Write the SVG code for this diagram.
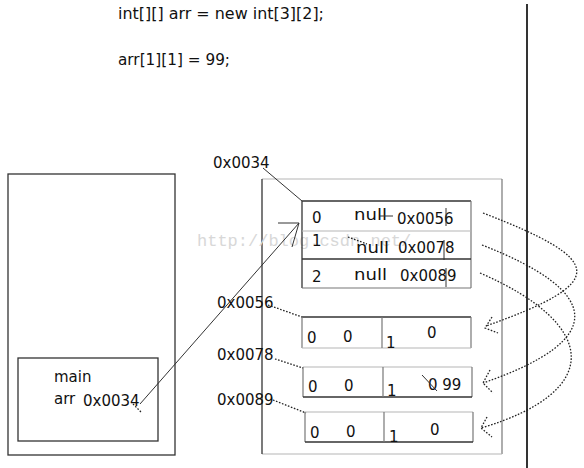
<svg xmlns="http://www.w3.org/2000/svg" width="584" height="468" viewBox="0 0 584 468">
<style>
  .t{font-family:"DejaVu Sans","Liberation Sans",sans-serif;fill:#111;}
  .code{font-size:15.5px;}
  .lb{font-size:15px;}
  .dk{stroke:#333;stroke-width:1.3;fill:none;}
  .lt{stroke:#b5b5b5;stroke-width:1.2;fill:none;}
  .md{stroke:#777;stroke-width:1.2;fill:none;}
  .dot{stroke:#222;stroke-width:1.3;fill:none;stroke-dasharray:1.6 1.6;}
  .sol{stroke:#333;stroke-width:1;fill:none;}
  .wm{font-family:"Liberation Mono",monospace;font-size:17px;fill:#d8d8d8;}
</style>
<rect width="584" height="468" fill="#fff"/>

<g id="code">
  <text class="t code" x="118" y="19" textLength="206" lengthAdjust="spacingAndGlyphs">int[][] arr = new int[3][2];</text>
  <text class="t code" x="118" y="65" textLength="112" lengthAdjust="spacingAndGlyphs">arr[1][1] = 99;</text>
</g>

<g id="divider">
  <line x1="527" y1="4" x2="527" y2="468" stroke="#000" stroke-width="1.6"/>
</g>

<g id="stack">
  <rect x="8" y="174" width="167" height="281" class="dk" stroke-width="1.5"/>
  <rect x="18" y="358" width="140" height="83" class="dk" stroke="#444"/>
  <text class="t lb" x="54" y="382">main</text>
  <text class="t lb" x="54" y="404">arr</text>
  <text class="t lb" x="83" y="406">0x0034</text>
</g>

<g id="heap">
  <line x1="262" y1="179" x2="502" y2="179" class="lt"/>
  <line x1="502" y1="179" x2="502" y2="454" class="md"/>
  <line x1="262" y1="454" x2="502" y2="454" class="lt"/>
  <line x1="262" y1="179" x2="262" y2="454" class="dk"/>
</g>

<text class="wm" x="197" y="246">http://blog.csdn.net/</text>

<g id="table">
  <line x1="302" y1="201" x2="471" y2="201" class="dk"/>
  <line x1="302" y1="201" x2="302" y2="288" class="dk"/>
  <line x1="471" y1="201" x2="471" y2="288" class="md"/>
  <line x1="302" y1="288" x2="471" y2="288" class="md"/>
  <line x1="302" y1="231" x2="471" y2="231" class="lt"/>
  <line x1="302" y1="259" x2="471" y2="259" class="dk"/>
  <text class="t lb" x="312" y="223">0</text>
  <text class="t lb" x="354" y="220" textLength="33" lengthAdjust="spacingAndGlyphs">null</text>
  <text class="t lb" x="397" y="224">0x0056</text>
  <text class="t lb" x="312" y="246">1</text>
  <text class="t lb" x="356" y="253" textLength="33" lengthAdjust="spacingAndGlyphs">null</text>
  <text class="t lb" x="398" y="253">0x0078</text>
  <text class="t lb" x="312" y="282">2</text>
  <text class="t lb" x="354" y="280" textLength="33" lengthAdjust="spacingAndGlyphs">null</text>
  <text class="t lb" x="400" y="281">0x0089</text>
  <line x1="380" y1="216" x2="393" y2="216" class="sol"/>
  <line x1="446" y1="208" x2="446" y2="226" class="sol"/>
  <line x1="444" y1="240" x2="444" y2="260" class="sol"/>
  <line x1="446" y1="268" x2="446" y2="287" class="sol"/>
  <line x1="348" y1="237" x2="367" y2="244" class="dot"/>
</g>

<g id="arr0">
  <line x1="302" y1="317" x2="471" y2="317" class="dk"/>
  <line x1="302" y1="317" x2="302" y2="348" class="md"/>
  <line x1="471" y1="317" x2="471" y2="348" class="md"/>
  <line x1="302" y1="348" x2="471" y2="348" class="lt"/>
  <line x1="382" y1="317" x2="382" y2="348" class="md"/>
  <text class="t lb" x="307" y="343">0</text>
  <text class="t lb" x="343" y="342">0</text>
  <text class="t lb" x="386" y="348">1</text>
  <text class="t lb" x="427" y="338">0</text>
</g>

<g id="arr1">
  <line x1="303" y1="367" x2="472" y2="367" class="lt"/>
  <line x1="303" y1="367" x2="303" y2="397" class="md"/>
  <line x1="472" y1="367" x2="472" y2="397" class="md"/>
  <line x1="303" y1="397" x2="472" y2="397" class="dk"/>
  <line x1="383" y1="367" x2="383" y2="397" class="md"/>
  <text class="t lb" x="308" y="392">0</text>
  <text class="t lb" x="344" y="391">0</text>
  <text class="t lb" x="387" y="396">1</text>
  <text class="t lb" x="428" y="390">0 99</text>
  <line x1="422" y1="375" x2="437" y2="391" class="sol"/>
</g>

<g id="arr2">
  <line x1="305" y1="412" x2="473" y2="412" class="lt"/>
  <line x1="305" y1="412" x2="305" y2="442" class="md"/>
  <line x1="473" y1="412" x2="473" y2="442" class="md"/>
  <line x1="305" y1="442" x2="473" y2="442" class="dk"/>
  <line x1="384" y1="412" x2="384" y2="442" class="md"/>
  <text class="t lb" x="310" y="438">0</text>
  <text class="t lb" x="346" y="437">0</text>
  <text class="t lb" x="389" y="442">1</text>
  <text class="t lb" x="430" y="435">0</text>
</g>

<g id="labels">
  <text class="t lb" x="213" y="168">0x0034</text>
  <text class="t lb" x="217" y="308">0x0056</text>
  <text class="t lb" x="217" y="360">0x0078</text>
  <text class="t lb" x="217" y="405">0x0089</text>
</g>

<g id="connectors">
  <line x1="263" y1="168" x2="302" y2="201" class="sol"/>
  <line x1="140" y1="404" x2="299" y2="223" class="sol"/>
  <polyline points="278,223 299,223 292,247" class="sol" stroke="#888"/>
  <line x1="133" y1="404" x2="141" y2="412" class="dot" stroke="#666"/>
  <line x1="268" y1="305" x2="302" y2="317" class="dot"/>
  <line x1="275" y1="359" x2="303" y2="368" class="dot"/>
  <line x1="273" y1="400" x2="306" y2="413" class="dot"/>
  <path d="M483,213 C605,260 610,282 486,326" class="dot"/>
  <polyline points="492,317 485,328 498,333" class="dot"/>
  <path d="M482,245 C603,292 608,340 483,383" class="dot"/>
  <polyline points="490,370 483,383 493,393" class="dot"/>
  <path d="M480,273 C600,325 603,392 481,428" class="dot"/>
  <polyline points="487,417 481,428 492,437" class="dot"/>
</g>
</svg>
